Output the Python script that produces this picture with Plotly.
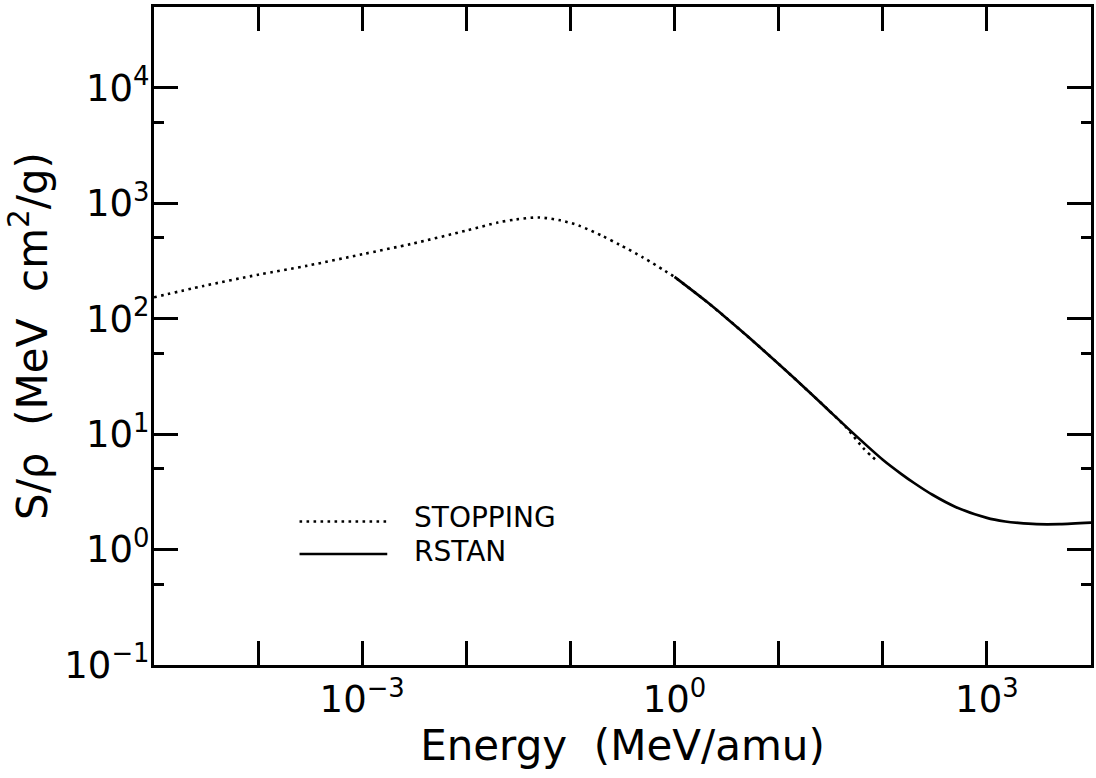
import plotly.graph_objects as go
import numpy as np

# ---- data ----
stopping_energy = [1e-5, 3e-5, 1e-4, 3e-4, 1e-3, 3e-3, 1e-2, 2e-2, 3e-2, 5e-2, 8e-2,
                   0.12, 0.2, 0.3, 0.5, 0.8, 1.0, 2, 3, 5, 10, 20, 30, 45, 65, 80, 90]
stopping_value = [153, 192, 240, 288, 361, 445, 579, 679, 723, 752, 710,
                  640, 523, 434, 338, 261, 229, 142, 105, 70.6, 40.5, 22.8, 16.2, 11.3, 7.55, 6.3, 5.75]

rstan_energy = [1, 2, 3, 5, 10, 20, 30, 50, 100, 150, 200, 300, 500, 1000, 1500, 2000,
                3000, 5000, 10000]
rstan_value = [230, 142, 105, 70.6, 40.5, 22.8, 16.2, 10.5, 6.0, 4.53, 3.77, 2.98, 2.34, 1.88,
               1.75, 1.70, 1.66, 1.66, 1.71]

x_tickvals = [1e-3, 1e0, 1e3]
x_ticktext = ["10<sup>−3</sup>", "10<sup>0</sup>", "10<sup>3</sup>"]
x_unlabeled = [1e-4, 1e-2, 1e-1, 1e1, 1e2]
y_tickvals = [1e-1, 1e0, 1e1, 1e2, 1e3, 1e4]
y_ticktext = ["10<sup>−1</sup>", "10<sup>0</sup>", "10<sup>1</sup>", "10<sup>2</sup>",
              "10<sup>3</sup>", "10<sup>4</sup>"]
y_minorvals = [0.5, 5, 50, 500, 5000]

legend_names = ["STOPPING", "RSTAN"]

FONT = "DejaVu Sans"
DOT = "2.6px,4.4px"

fig = go.Figure()
fig.add_trace(go.Scatter(x=stopping_energy, y=stopping_value, mode="lines",
                         name=legend_names[0], showlegend=False,
                         line=dict(color="black", width=2.6, dash=DOT,
                                   shape="spline", smoothing=0.8)))
fig.add_trace(go.Scatter(x=rstan_energy, y=rstan_value, mode="lines",
                         name=legend_names[1], showlegend=False,
                         line=dict(color="black", width=2.7, shape="spline", smoothing=0.8)))

W, H = 1096, 778
L, R, T, B = 154, 2, 7, 113
pw, ph = W - L - R, H - T - B

def px(x):
    return (x - L) / pw

def py(y):
    return (H - B - y) / ph

# manual legend (long line samples as in the original)
fig.add_shape(type="line", xref="paper", yref="paper",
              x0=px(300), x1=px(387), y0=py(521.5), y1=py(521.5),
              line=dict(color="black", width=2.6, dash=DOT))
fig.add_shape(type="line", xref="paper", yref="paper",
              x0=px(300), x1=px(388), y0=py(554), y1=py(554),
              line=dict(color="black", width=2.7))
for name, yy in zip(legend_names, [517.5, 551.5]):
    fig.add_annotation(text=name, xref="paper", yref="paper", x=px(413), y=py(yy),
                       xanchor="left", yanchor="middle", showarrow=False,
                       font=dict(family=FONT, size=28, color="black"))

axis_common = dict(type="log", showline=True, linewidth=3, linecolor="black",
                   mirror="ticks", ticks="inside", ticklen=24, tickwidth=2.5,
                   tickcolor="black", showgrid=False, zeroline=False,
                   tickfont=dict(family=FONT, size=37, color="black"))

fig.update_xaxes(**axis_common, range=[-5, 4], tickmode="array",
                 tickvals=x_tickvals, ticktext=x_ticktext,
                 minor=dict(tickmode="array", tickvals=x_unlabeled, ticks="inside",
                            ticklen=24, tickwidth=2.5, tickcolor="black", showgrid=False),
                 title=dict(text="Energy\u00a0\u00a0(MeV/amu)",
                            font=dict(family=FONT, size=42, color="black"), standoff=10))
fig.update_yaxes(**axis_common, range=[-1, np.log10(5e4)], tickmode="array",
                 tickvals=y_tickvals, ticktext=y_ticktext, ticklabelstandoff=-6,
                 minor=dict(tickmode="array", tickvals=y_minorvals, ticks="inside",
                            ticklen=10, tickwidth=2.5, tickcolor="black", showgrid=False),
                 title=dict(text="S/ρ\u00a0\u00a0(MeV\u00a0\u00a0cm<sup>2</sup>/g)",
                            font=dict(family=FONT, size=42, color="black"), standoff=4))

fig.update_layout(width=W, height=H, autosize=False,
                  margin=dict(l=L, r=R, t=T, b=B, pad=0),
                  paper_bgcolor="white", plot_bgcolor="white", showlegend=False)

fig.write_html("out.html", config={"displayModeBar": False},
               post_script="document.body.style.margin='0px';document.body.style.overflow='hidden';")
